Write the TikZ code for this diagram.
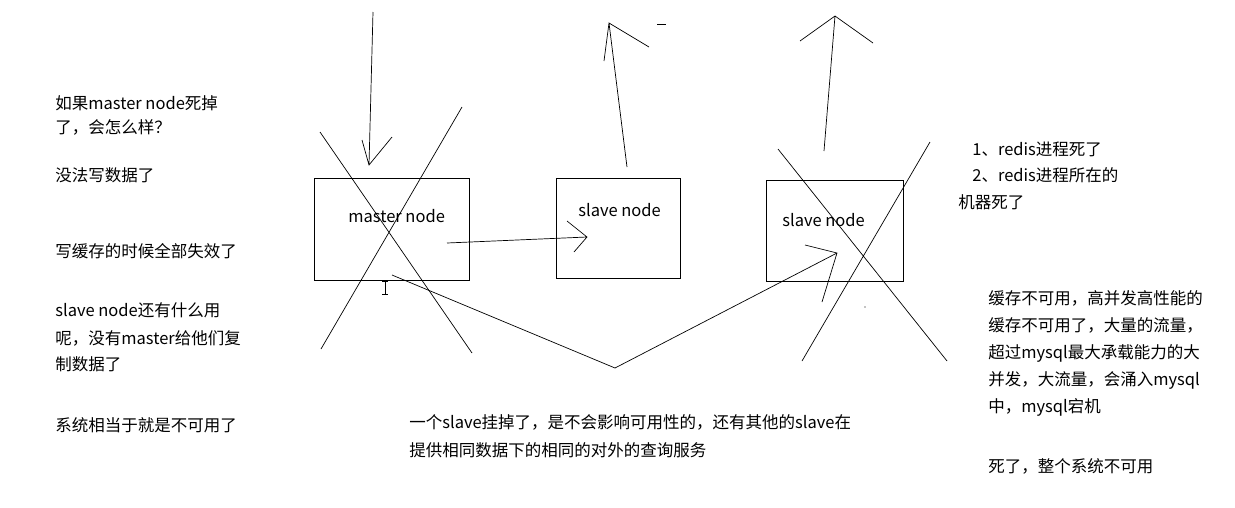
\documentclass[tikz,border=0pt]{standalone}
\usepackage{fontspec}
\setmainfont{Noto Sans CJK SC}
\begin{document}
\begin{tikzpicture}[x=1pt,y=-1pt,line width=0.7pt,
  txt/.style={anchor=west,inner sep=0pt,font=\fontsize{16.5}{19}\selectfont}]
\useasboundingbox (0,0) rectangle (1235,507);
% boxes
\node[draw,minimum width=155pt,minimum height=102pt] (master) at (391.5,229) {};
\node[draw,minimum width=124pt,minimum height=100pt] (slaveA) at (618,228) {};
\node[draw,minimum width=137pt,minimum height=101pt] (slaveB) at (834.5,230.5) {};
\node[txt] (lm) at (348,216) {master node};
\node[txt] (la) at (578,210) {slave node};
\node[txt] (lb) at (782,220) {slave node};
% arrows, drawn by hand
\coordinate (inT) at (373,12);  \coordinate (inH) at (369,165);
\draw (inT) -- (inH) (362,140) -- (inH) -- (392,137);
\coordinate (repT) at (447,243); \coordinate (repH) at (587,237);
\draw (repT) -- (repH) (567,221) -- (repH) -- (574,252);
\coordinate (outA) at (627,167); \coordinate (outAH) at (609,23);
\draw (outA) -- (outAH) (604,61) -- (outAH) -- (649,47);
\draw (657,24) -- (666,24);
\coordinate (outB) at (824,151); \coordinate (outBH) at (835,16);
\draw (outB) -- (outBH) (800,41) -- (outBH) -- (873,43);
% crosses
\draw (320,132) -- (472,353) (462,107) -- (321,349);
\draw (778,149) -- (947,361) (930,142) -- (802,361);
% the V line
\coordinate (vS) at (392,275); \coordinate (vB) at (615,368); \coordinate (vH) at (837,253);
\draw (vS) -- (vB) -- (vH) (805,245) -- (vH) -- (822,302);
\draw[line width=0.6pt] (385,281) -- (385,294) (382,281) -- (388,281) (382,294) -- (388,294);
\fill (865,307) circle (0.7);
% left notes
\node[txt] (n1) at (55,103) {如果master node死掉};
\node[txt] (n2) at (55,127) {了，会怎么样？};
\node[txt] (n3) at (55,175) {没法写数据了};
\node[txt] (n4) at (55,251) {写缓存的时候全部失效了};
\node[txt] (n5) at (55,310) {slave node还有什么用};
\node[txt] (n6) at (55,338) {呢，没有master给他们复};
\node[txt] (n7) at (55,364) {制数据了};
\node[txt] (n8) at (55,425) {系统相当于就是不可用了};
% middle note
\node[txt] (m1) at (409,422) {一个slave挂掉了，是不会影响可用性的，还有其他的slave在};
\node[txt] (m2) at (409,450) {提供相同数据下的相同的对外的查询服务};
% right notes
\node[txt] (r1) at (972,149) {1、redis进程死了};
\node[txt] (r2) at (972,175) {2、redis进程所在的};
\node[txt] (r3) at (958,202) {机器死了};
\node[txt] (r4) at (988,298) {缓存不可用，高并发高性能的};
\node[txt] (r5) at (988,325) {缓存不可用了，大量的流量，};
\node[txt] (r6) at (988,353) {超过mysql最大承载能力的大};
\node[txt] (r7) at (988,380) {并发，大流量，会涌入mysql};
\node[txt] (r8) at (988,407) {中，mysql宕机};
\node[txt] (r9) at (988,466) {死了，整个系统不可用};
\end{tikzpicture}
\end{document}
